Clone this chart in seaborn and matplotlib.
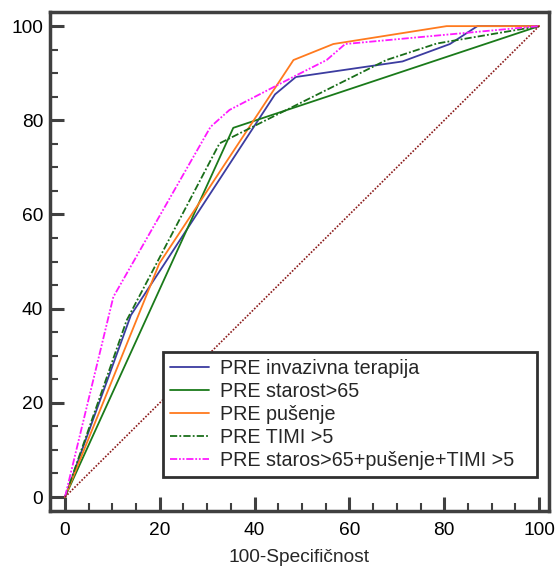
import matplotlib
matplotlib.use("Agg")
import matplotlib.pyplot as plt
from matplotlib.ticker import MultipleLocator
import seaborn as sns
import pandas as pd

# ---- data ----
inv_x = [0, 13.9, 44.3, 48.7, 71.2, 81.2, 87.0, 100]
inv_y = [0, 38.6, 85.5, 89.2, 92.5, 96.2, 100, 100]

star_x = [0, 35.5, 100]
star_y = [0, 78.4, 100]

pus_x = [0, 19.9, 48.2, 56.6, 80.5, 100]
pus_y = [0, 49.6, 92.8, 96.2, 100, 100]

timi_x = [0, 13.0, 32.6, 67.8, 78.4, 100]
timi_y = [0, 37.5, 75.1, 92.8, 96.3, 100]

comb_x = [0, 10.2, 30.7, 34.7, 48.5, 55.2, 59.1, 100]
comb_y = [0, 42.5, 78.6, 82.2, 89.4, 92.8, 96.2, 100]

diag_x = [0, 100]
diag_y = [0, 100]

labels = ["PRE invazivna terapija", "PRE starost>65", "PRE pušenje",
          "PRE TIMI >5", "PRE staros>65+pušenje+TIMI >5"]
xticks = [0, 20, 40, 60, 80, 100]
yticks = [0, 20, 40, 60, 80, 100]
xlabel = "100-Specifičnost"

sns.set_style("white")
plt.rcParams['font.family'] = ['Liberation Sans', 'DejaVu Sans']

fig = plt.figure(figsize=(5.55, 5.67), dpi=100)
ax = fig.add_axes([50/555, 1-511/567, 499/555, 499/567])

series = [
    (inv_x, inv_y, labels[0], "#3c3ca0", "-"),
    (star_x, star_y, labels[1], "#1a7a1a", "-"),
    (pus_x, pus_y, labels[2], "#ff7a1e", "-"),
    (timi_x, timi_y, labels[3], "#1a6e1a", (0, (4, 1.2, 1, 1.2))),
    (comb_x, comb_y, labels[4], "#ff1aff", (0, (4, 1, 1, 1, 1, 1))),
]
for xs, ys, lab, col, ls in series:
    df = pd.DataFrame({"x": xs, "y": ys})
    sns.lineplot(data=df, x="x", y="y", ax=ax, color=col, linestyle=ls,
                 linewidth=1.3, sort=False, estimator=None, label=lab)

ddf = pd.DataFrame({"x": diag_x, "y": diag_y})
sns.lineplot(data=ddf, x="x", y="y", ax=ax, color="#8b1a1a",
             linestyle=(0, (1, 1)), linewidth=1.2, sort=False, estimator=None)

ax.set_xlim(-3.16, 102.1)
ax.set_ylim(-2.97, 103.0)
ax.set_xticks(xticks)
ax.set_yticks(yticks)
ax.xaxis.set_minor_locator(MultipleLocator(5))
ax.yaxis.set_minor_locator(MultipleLocator(5))
ax.tick_params(which="both", bottom=True, left=True, top=False, right=False)
ax.tick_params(which="major", direction="in", length=10, width=2.2,
               color="#404040", labelsize=13.8, pad=5, labelcolor="black")
ax.tick_params(axis="x", which="major", pad=8)
ax.tick_params(which="minor", direction="in", length=6, width=1.5,
               color="#404040")
for sp in ax.spines.values():
    sp.set_color("#404040")
    sp.set_linewidth(2.5)
ax.set_xlabel(xlabel, fontsize=13.8, labelpad=7)
ax.set_ylabel("")

leg = ax.legend(loc="lower left", bbox_to_anchor=(0.2265, 0.068, 0.7495, 0.2),
                mode="expand",
                borderaxespad=0, frameon=True, fancybox=False, fontsize=14.2,
                handlelength=2.0, handletextpad=0.55, labelspacing=0.2,
                borderpad=0.35)
leg.get_frame().set_edgecolor("#303030")
leg.get_frame().set_linewidth(2.0)
leg.get_frame().set_alpha(1)

fig.savefig("out.png", dpi=100)
